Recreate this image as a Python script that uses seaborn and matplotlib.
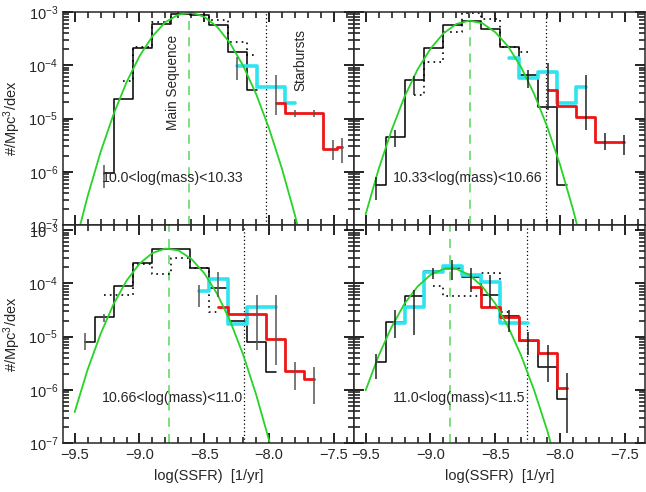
import numpy as np
import matplotlib
matplotlib.use("Agg")
import matplotlib.pyplot as plt
import matplotlib.ticker as mticker
import seaborn as sns

# bin centres in log(SSFR)
BINS = [-9.420, -9.273, -9.126, -8.979, -8.832, -8.685, -8.538,
        -8.391, -8.244, -8.097, -7.950, -7.803, -7.656, -7.509]

# all y values are log10(#/Mpc^3/dex)

# ---- 10.0 < log(mass) < 10.33
tl_black = [-6.03, -4.63, -3.68, -3.225, -3.04, -3.06, -3.24, -3.745, -4.465]
tl_dot = [-4.30, -3.65, -3.18, -2.96, -2.975, -3.15, -3.56, -3.81]
tl_cyan_x = [-8.244, -7.950, -7.803]
tl_cyan = [-4.01, -4.415, -4.715]
tl_red_x = [-7.950, -7.803, -7.656, -7.509, -7.440]
tl_red = [-4.70, -4.90, -4.90, -5.57, -5.53]
tl_err_x = [-9.273, -8.244, -7.950, -7.803, -7.656, -7.509, -7.440]
tl_err_lo = [-6.31, -4.28, -4.93, -4.97, -4.97, -5.78, -5.84]
tl_err_hi = [-5.87, -3.84, -4.18, -4.84, -4.84, -5.40, -5.37]
tl_fit_x = [-9.5, -9.4, -9.3, -9.2, -9.1, -9.0, -8.9, -8.8, -8.7, -8.6,
            -8.5, -8.4, -8.3, -8.2, -8.1, -8.0, -7.9, -7.8, -7.7]
tl_fit = [-7.40, -6.46, -5.63, -4.92, -4.32, -3.83, -3.455, -3.19, -3.05, -3.01,
          -3.09, -3.28, -3.59, -4.01, -4.54, -5.19, -5.95, -6.82, -7.81]
tl_ms, tl_sb = -8.618, -8.026

# ---- 10.33 < log(mass) < 10.66
tr_black = [-6.25, -5.34, -4.28, -3.67, -3.245, -3.17, -3.325, -3.66, -4.18, -4.78, -6.25]
tr_dot = [-4.55, -3.93, -3.37, -3.01, -3.14, -3.66, -3.76]
tr_cyan = [-3.87, -4.245, -4.12, -4.70, -4.415]
tr_red = [-4.465, -4.765, -4.98, -5.435, -5.45]
tr_err_x = [-9.420, -9.273, -9.126, -8.244, -8.097, -7.803, -7.656, -7.509]
tr_err_lo = [-6.53, -5.53, -4.56, -4.43, -4.84, -5.22, -5.59, -5.69]
tr_err_hi = [-6.09, -5.22, -4.21, -4.09, -3.96, -4.18, -5.28, -5.31]
tr_fit_x = [-9.5, -9.4, -9.3, -9.2, -9.1, -9.0, -8.9, -8.8, -8.7,
            -8.6, -8.5, -8.4, -8.3, -8.2, -8.1, -8.0, -7.9, -7.8]
tr_fit = [-6.80, -5.95, -5.22, -4.59, -4.08, -3.69, -3.40, -3.225, -3.163,
          -3.21, -3.38, -3.65, -4.04, -4.54, -5.15, -5.87, -6.71, -7.66]
tr_ms, tr_sb = -8.695, -8.111

# ---- 10.66 < log(mass) < 11.0
bl_black = [-5.097, -4.628, -4.052, -3.613, -3.363, -3.363, -3.72, -4.095, -4.709, -5.097, -5.66]
bl_dot = [-4.22, -4.22, -3.645, -3.83, -3.53, -3.72, -4.53]
bl_cyan = [-4.145, -3.91, -4.765, -4.446, -4.446]
bl_red = [-4.44, -4.58, -4.58, -5.05, -5.65, -5.79]
bl_err_x = [-9.420, -9.273, -8.538, -8.391, -8.097, -7.950, -7.803, -7.656]
bl_err_lo = [-5.25, -4.72, -4.44, -4.25, -5.25, -5.54, -6.00, -6.26]
bl_err_hi = [-4.94, -4.57, -4.03, -3.78, -4.22, -4.22, -5.47, -5.57]
bl_fit_x = [-9.5, -9.4, -9.3, -9.2, -9.1, -9.0, -8.9, -8.8, -8.7,
            -8.6, -8.5, -8.4, -8.3, -8.2, -8.1, -8.0, -7.9]
bl_fit = [-6.42, -5.62, -4.95, -4.39, -3.95, -3.63, -3.43, -3.346, -3.38,
          -3.54, -3.81, -4.20, -4.71, -5.34, -6.09, -6.95, -7.94]
bl_ms, bl_sb = -8.772, -8.191

# ---- 11.0 < log(mass) < 11.5
br_black = [-5.47, -4.72, -4.24, -3.77, -3.71, -3.875, -4.21, -4.61, -5.08, -5.57, -6.17]
br_dot = [-4.045, -4.23, -4.23, -3.81, -4.53]
br_cyan = [-4.75, -4.44, -3.78, -3.67, -3.845, -3.97, -4.75, -4.75]
br_red = [-4.065, -4.44, -4.63, -5.07, -5.30, -5.96]
br_err_x = BINS[0:11]
br_err_lo = [-5.79, -5.03, -4.97, -3.91, -3.94, -4.16, -4.44, -4.91, -5.35, -5.85, -6.82]
br_err_hi = [-5.32, -4.50, -4.13, -3.72, -3.56, -3.72, -3.85, -4.50, -4.91, -5.16, -5.69]
br_fit_x = [-9.5, -9.4, -9.3, -9.2, -9.1, -9.0, -8.9, -8.8,
            -8.7, -8.6, -8.5, -8.4, -8.3, -8.2, -8.1, -8.0]
br_fit = [-6.01, -5.36, -4.82, -4.38, -4.06, -3.84, -3.73, -3.73,
          -3.84, -4.06, -4.38, -4.82, -5.36, -6.01, -6.76, -7.63]
br_ms, br_sb = -8.849, -8.257

labels = ["10.0<log(mass)<10.33", "10.33<log(mass)<10.66",
          "10.66<log(mass)<11.0", "11.0<log(mass)<11.5"]

panels = [
    dict(black=(BINS[1:10], tl_black), dot=(BINS[2:10], tl_dot),
         cyan=(tl_cyan_x, tl_cyan), red=(tl_red_x, tl_red),
         err=(tl_err_x, tl_err_lo, tl_err_hi), fit=(tl_fit_x, tl_fit),
         ms=tl_ms, sb=tl_sb, ecol="#555555"),
    dict(black=(BINS[0:11], tr_black), dot=(BINS[2:9], tr_dot),
         cyan=(BINS[7:12], tr_cyan), red=(BINS[9:14], tr_red),
         err=(tr_err_x, tr_err_lo, tr_err_hi), fit=(tr_fit_x, tr_fit),
         ms=tr_ms, sb=tr_sb, ecol="#222222"),
    dict(black=(BINS[0:11], bl_black), dot=(BINS[1:8], bl_dot),
         cyan=(BINS[6:11], bl_cyan), red=(BINS[7:13], bl_red),
         err=(bl_err_x, bl_err_lo, bl_err_hi), fit=(bl_fit_x, bl_fit),
         ms=bl_ms, sb=bl_sb, ecol="#555555"),
    dict(black=(BINS[0:11], br_black), dot=(BINS[3:8], br_dot),
         cyan=(BINS[1:9], br_cyan), red=(BINS[5:11], br_red),
         err=(br_err_x, br_err_lo, br_err_hi), fit=(br_fit_x, br_fit),
         ms=br_ms, sb=br_sb, ecol="#222222"),
]

sns.set_style("ticks")
plt.rcParams['font.family'] = ['Liberation Sans', 'DejaVu Sans']
plt.rcParams['mathtext.default'] = 'regular'
plt.rcParams['axes.linewidth'] = 1.1


def steps(ax, xy, **kw):
    x, ly = xy
    sns.lineplot(x=list(x), y=10.0 ** np.asarray(ly), ax=ax, drawstyle='steps-mid',
                 estimator=None, sort=False, legend=False, **kw)


def minus_fmt(v, pos):
    return ("%.1f" % v).replace("-", "\u2212")


fig = plt.figure(figsize=(6.46, 4.92), dpi=100)
gs = fig.add_gridspec(2, 2, left=63 / 646, right=645 / 646, top=1 - 12 / 492,
                      bottom=1 - 443 / 492, wspace=0, hspace=0,
                      height_ratios=[213, 218])

for i, p in enumerate(panels):
    row, col = divmod(i, 2)
    ax = fig.add_subplot(gs[row, col])
    ax.set_yscale('log')

    ax.axvline(p["ms"], color="#6fdc6f", lw=1.3, dashes=(5, 4), zorder=1)
    ax.axvline(p["sb"], color="black", lw=0.9, ls=(0, (1, 2)), zorder=1)

    steps(ax, p["dot"], color="black", lw=1.2, ls=(0, (1, 2.5)))
    steps(ax, p["black"], color="black", lw=1.1)
    steps(ax, p["cyan"], color="#2fe3f0", lw=2.6)
    steps(ax, p["red"], color="#ee1515", lw=2.0)
    ex, elo, ehi = p["err"]
    ax.vlines(ex, 10.0 ** np.asarray(elo), 10.0 ** np.asarray(ehi),
              color=p["ecol"], lw=1.1, zorder=3)
    fx, fy = p["fit"]
    sns.lineplot(x=fx, y=10.0 ** np.asarray(fy), ax=ax, color="#27d327", lw=1.3,
                 estimator=None, sort=False, legend=False)

    ax.text(-9.29, 10 ** (-6.12 if row == 0 else -6.155), labels[i],
            fontsize=10.2, ha='left', va='center')

    ax.set_xlim(-9.59, -7.345)
    ax.set_ylim(1e-7, 1e-3 if row == 0 else 1.25e-3)
    ax.set_xticks(np.arange(-9.5, -7.4, 0.5))
    ax.set_xticks(np.arange(-9.5, -7.3, 0.1), minor=True)
    ax.xaxis.set_major_formatter(mticker.FuncFormatter(minus_fmt))
    decades = [1e-7, 1e-6, 1e-5, 1e-4, 1e-3]
    ax.set_yticks(decades)
    ax.set_yticks([m * d for d in decades[:-1] for m in range(2, 10)], minor=True)
    ax.yaxis.set_minor_formatter(mticker.NullFormatter())
    ax.tick_params(which='both', direction='in', top=True, right=True,
                   bottom=True, left=True, color='#111111')
    ax.tick_params(which='major', length=7, width=1.3, labelsize=10.5)
    ax.tick_params(which='minor', length=4, width=1.1)

    if col == 1:
        ax.tick_params(labelleft=False)
        ax.set_ylabel("")
    else:
        ax.set_ylabel("#/Mpc$^3$/dex", fontsize=10.5, labelpad=4)
    if row == 0:
        ax.tick_params(labelbottom=False)
        ax.set_xlabel("")
    else:
        ax.set_xlabel("log(SSFR)  [1/yr]", fontsize=10.5, labelpad=5)

    if i == 0:
        ax.text(-8.741, 10 ** -4.33, "Main Sequence", rotation=90,
                fontsize=9.8, ha='center', va='center')
        ax.text(-7.76, 10 ** -3.90, "Starbursts", rotation=90,
                fontsize=9.8, ha='center', va='center')

fig.savefig("out.png", dpi=100)
